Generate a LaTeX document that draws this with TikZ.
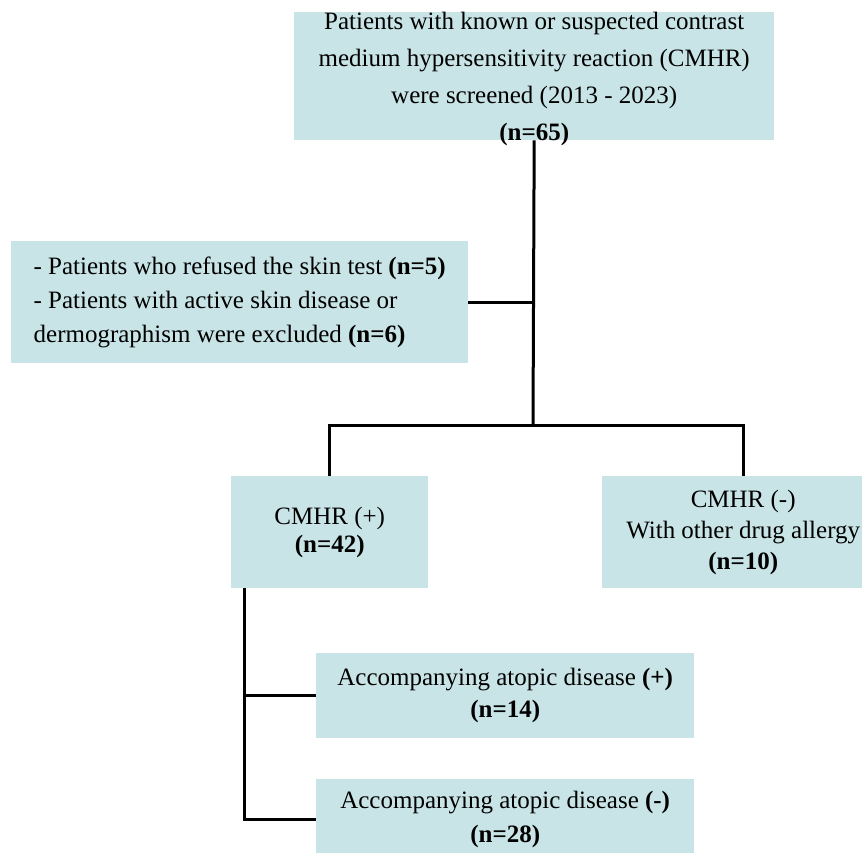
\documentclass[tikz,border=0pt]{standalone}
\usepackage{fontspec}
\setmainfont{Liberation Serif}
\usepackage{tikz}
\definecolor{boxfill}{RGB}{200,228,230}

\begin{document}
\begin{tikzpicture}[x=1pt, y=-1pt,
	box/.style={fill=boxfill, inner sep=0pt, anchor=north west, align=center, font=\fontsize{25}{32}\selectfont},
	link/.style={line width=3pt}]
	\useasboundingbox (0,0) rectangle (862,852);
	\node (screen) [box, minimum width=480pt, text height=128pt, text depth=0pt, font=\fontsize{25}{37}\selectfont] at (294,12)
		{Patients with known or suspected contrast\\ medium hypersensitivity reaction (CMHR)\\ were screened (2013 - 2023)\\ \textbf{(n=65)}};
	\node (excl) [box, minimum width=457pt, minimum height=122pt, align=left, font=\fontsize{25}{34}\selectfont] at (11,241)
		{- Patients who refused the skin test \textbf{(n=5)}\\ - Patients with active skin disease or\\ dermographism were excluded \textbf{(n=6)}};
	\node (pos) [box, minimum width=197pt, minimum height=112pt, font=\fontsize{25}{28}\selectfont] at (231,476)
		{CMHR (+)\\ \textbf{(n=42)}};
	\node (neg) [box, minimum width=282pt, minimum height=112pt, font=\fontsize{25}{31}\selectfont] at (602,476)
		{CMHR (-)\\ With other drug allergy\\ \textbf{(n=10)}};
	\node (atopypos) [box, minimum width=378pt, minimum height=85pt] at (316,653)
		{Accompanying atopic disease \textbf{(+)}\\ \textbf{(n=14)}};
	\node (atopyneg) [box, minimum width=378pt, minimum height=81pt, font=\fontsize{25}{34}\selectfont] at (316,779)
		{Accompanying atopic disease \textbf{(-)}\\ \textbf{(n=28)}};

	\coordinate (fork) at (533,425);
	\coordinate (stem) at ([xshift=13pt]pos.south west);
	\draw[link] (screen.south) -- (fork);
	\draw[link] (excl.east) -- (excl.east -| fork);
	\draw[link] (pos.north) |- (fork) -| (neg.north);
	\draw[link] (stem) |- (atopyneg.west);
	\draw[link] (atopypos.west) -- (atopypos.west -| stem);
\end{tikzpicture}
\end{document}
